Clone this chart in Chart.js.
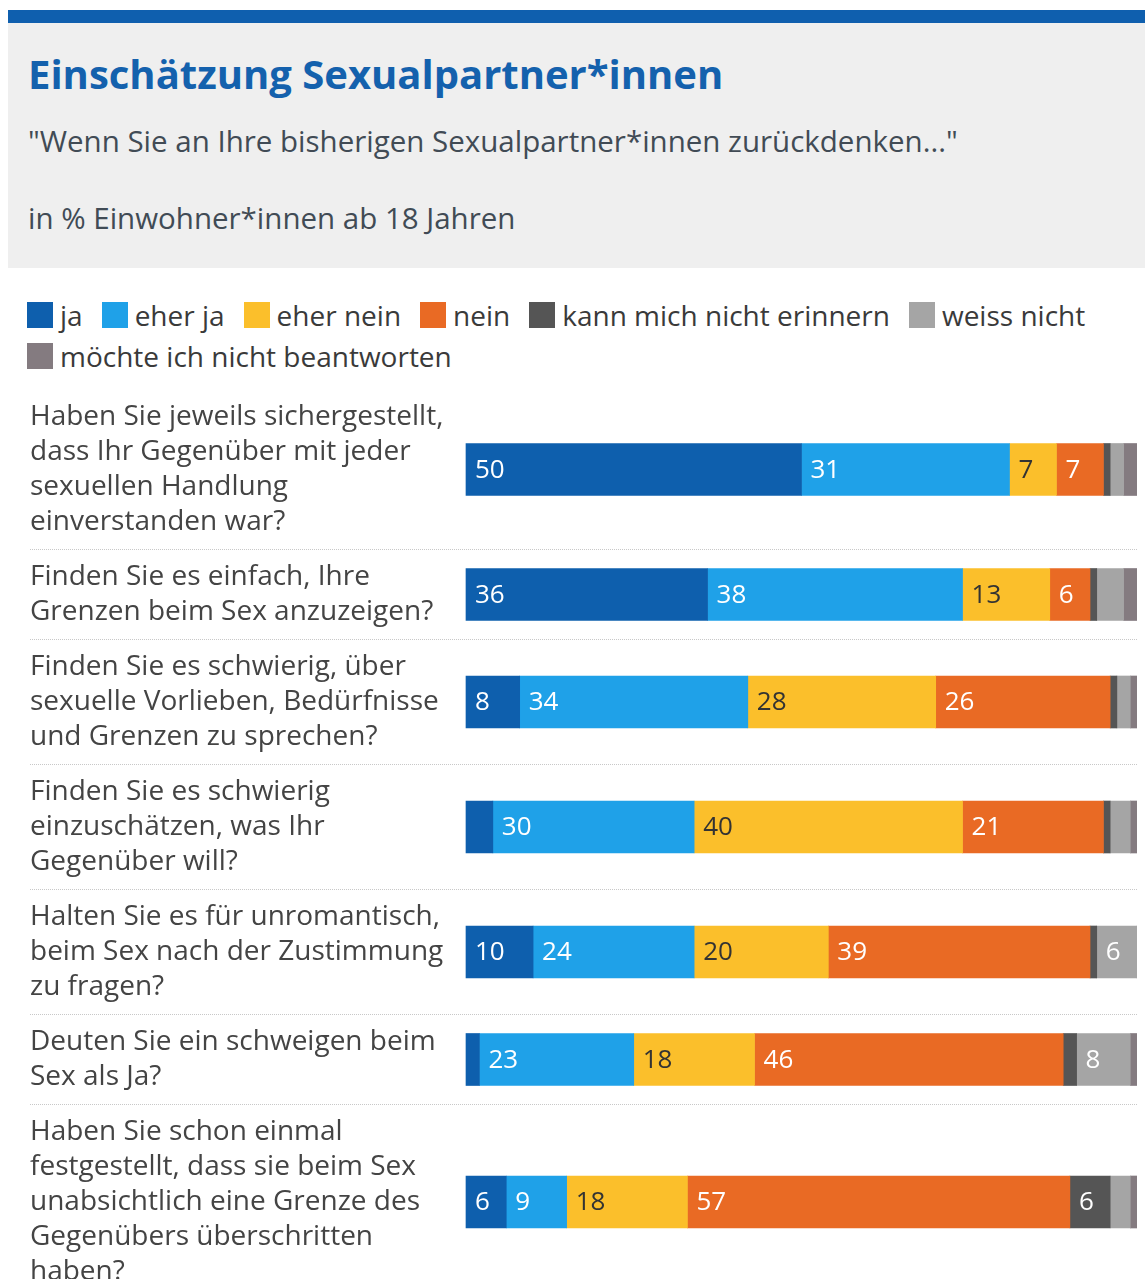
<!DOCTYPE html>
<html><head><meta charset="utf-8">
<script src="https://cdn.jsdelivr.net/npm/chart.js@4.4.1/dist/chart.umd.min.js"></script>
<style>
body{margin:0;background:#fff;width:1145px;height:1279px;overflow:hidden;position:relative;font-family:"Open Sans",sans-serif;}
#stripe{position:absolute;left:8px;top:10px;width:1137px;height:13px;background:#0f5fae;}
#head{position:absolute;left:8px;top:23px;width:1137px;height:245px;background:#efefef;}
.t{position:absolute;left:28px;line-height:1;white-space:nowrap;}
#title{top:54px;font-size:40px;font-weight:700;color:#1461ad;}
#sub{top:126px;font-size:29.5px;color:#414b55;}
#unit{top:203px;font-size:29.5px;color:#414b55;}
#legend{position:absolute;left:27px;top:302px;width:1118px;display:flex;flex-wrap:wrap;row-gap:15px;}
.li{display:flex;align-items:center;margin-right:19px;font-size:28px;color:#3a3a3a;line-height:26px;height:26px;}
.sw{width:26px;height:26px;margin-right:7px;}
.row{position:absolute;left:30px;width:1107px;}
.row.div{border-bottom:1px dotted #c8c8c8;}
</style></head>
<body>
<div id="stripe"></div>
<div id="head"></div>
<div class="t" id="title">Einschätzung Sexualpartner*innen</div>
<div class="t" id="sub">"Wenn Sie an Ihre bisherigen Sexualpartner*innen zurückdenken..."</div>
<div class="t" id="unit">in % Einwohner*innen ab 18 Jahren</div>
<div id="legend"></div>
<div id="rows"></div>
<script>
const categories = [
  ["Haben Sie jeweils sichergestellt,", "dass Ihr Gegenüber mit jeder", "sexuellen Handlung", "einverstanden war?"],
  ["Finden Sie es einfach, Ihre", "Grenzen beim Sex anzuzeigen?"],
  ["Finden Sie es schwierig, über", "sexuelle Vorlieben, Bedürfnisse", "und Grenzen zu sprechen?"],
  ["Finden Sie es schwierig", "einzuschätzen, was Ihr", "Gegenüber will?"],
  ["Halten Sie es für unromantisch,", "beim Sex nach der Zustimmung", "zu fragen?"],
  ["Deuten Sie ein schweigen beim", "Sex als Ja?"],
  ["Haben Sie schon einmal", "festgestellt, dass sie beim Sex", "unabsichtlich eine Grenze des", "Gegenübers überschritten", "haben?"]
];
const seriesNames = ["ja", "eher ja", "eher nein", "nein", "kann mich nicht erinnern", "weiss nicht", "möchte ich nicht beantworten"];
const ja         = [50, 36, 8, 4, 10, 2, 6];
const eherJa     = [31, 38, 34, 30, 24, 23, 9];
const eherNein   = [7, 13, 28, 40, 20, 18, 18];
const nein       = [7, 6, 26, 21, 39, 46, 57];
const kannMich   = [1, 1, 1, 1, 1, 2, 6];
const weissNicht = [2, 4, 2, 3, 6, 8, 3];
const moechte    = [2, 2, 1, 1, 0, 1, 1];
const seriesValues = [ja, eherJa, eherNein, nein, kannMich, weissNicht, moechte];
const colors = ["#0e5fad", "#1fa1e8", "#fbbf2b", "#e96a24", "#555555", "#a5a5a5", "#847b80"];
const labelColors = ["#fff", "#fff", "#333", "#fff", "#fff", "#fff", "#fff"];

const leg = document.getElementById('legend');
seriesNames.forEach((n, i) => {
  const d = document.createElement('div'); d.className = 'li';
  d.innerHTML = '<span class="sw" style="background:' + colors[i] + '"></span>' + n;
  leg.appendChild(d);
});

const valueLabels = {
  id: 'valueLabels',
  afterDatasetsDraw(chart) {
    const ctx = chart.ctx;
    ctx.save();
    ctx.font = '26px "Open Sans"';
    ctx.textBaseline = 'middle';
    ctx.textAlign = 'left';
    chart.data.datasets.forEach((ds, di) => {
      const meta = chart.getDatasetMeta(di);
      meta.data.forEach((el, j) => {
        const v = ds.data[j];
        if (v >= 5) {
          ctx.fillStyle = labelColors[di];
          ctx.fillText(String(v), Math.min(el.x, el.base) + 9, el.y + 1);
        }
      });
    });
    ctx.restore();
  }
};

const rowsEl = document.getElementById('rows');
let yPos = 390;
categories.forEach((cat, i) => {
  const h = 20 + 35 * cat.length;
  const div = document.createElement('div');
  div.className = 'row' + (i < categories.length - 1 ? ' div' : '');
  div.style.top = yPos + 'px';
  div.style.height = (h - 1) + 'px';
  const cv = document.createElement('canvas');
  div.appendChild(cv);
  rowsEl.appendChild(div);
  yPos += h;
  new Chart(cv, {
    type: 'bar',
    data: {
      labels: [cat],
      datasets: seriesNames.map((n, k) => ({
        label: n,
        data: [seriesValues[k][i]],
        backgroundColor: colors[k],
        borderWidth: 0,
        grouped: false,
        clip: false,
        barThickness: 52
      }))
    },
    options: {
      indexAxis: 'y',
      responsive: true,
      maintainAspectRatio: false,
      animation: false,
      layout: { padding: 0 },
      plugins: { legend: { display: false }, tooltip: { enabled: false } },
      scales: {
        x: { stacked: true, min: 0, max: 100, display: false },
        y: {
          stacked: true,
          grid: { display: false },
          border: { display: false },
          afterFit(s) { s.width = 436; s.paddingTop = 0; s.paddingBottom = 0; },
          ticks: {
            crossAlign: 'far',
            padding: 0,
            color: '#444',
            font: { family: '"Open Sans"', size: 28, lineHeight: 35 / 28 }
          }
        }
      }
    },
    plugins: [valueLabels]
  });
});
</script>
</body></html>
